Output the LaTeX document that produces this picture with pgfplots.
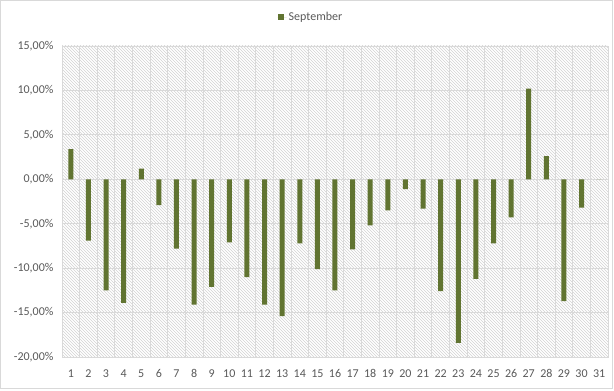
\documentclass[border=0pt]{standalone}
\usepackage{pgfplots}
\pgfplotsset{compat=1.18}
\usepackage{fontspec}
\setmainfont{Carlito}
\usetikzlibrary{patterns}
\definecolor{barc}{HTML}{617431}
\definecolor{txt}{HTML}{595959}
\definecolor{gridc}{HTML}{D9D9D9}
\begin{document}
\begin{tikzpicture}
\useasboundingbox (0,0) rectangle (614pt,391pt);
\draw[gridc, line width=0.8pt] (0.5pt,3pt) rectangle (612pt,390.5pt);
\begin{axis}[
  at={(62pt,34pt)}, anchor=south west,
  scale only axis, width=546pt, height=311pt,
  ybar, bar width=5pt,
  xmin=0.5, xmax=31.5, ymin=-20, ymax=15,
  xtick={1,...,31}, minor xtick={0.5,1.5,...,31.5},
  ytick={-20,-15,...,15},
  xminorgrids=true, ymajorgrids=true, xmajorgrids=false,
  grid style={gridc, line width=0.8pt},
  minor grid style={gridc, line width=0.8pt},
  major tick length=0pt, minor tick length=0pt,
  axis line style={gridc, line width=0.8pt},
  axis background/.style={pattern=north west lines, pattern color=gray!35},
  ticklabel style={font=\fontsize{12}{14}\selectfont, text=txt},
  /pgf/number format/assume math mode=true,
  yticklabel={\pgfmathprintnumber[fixed,fixed zerofill,precision=2,use comma]{\tick}\%},
  yticklabel style={xshift=-5pt},
  xticklabel style={yshift=-9pt},
  legend style={at={(0.456,1.093)}, anchor=center, draw=none, fill=none,
    font=\fontsize{12}{14}\selectfont, text=txt},
  legend image code/.code={\path (0pt,0pt) -- (9pt,0pt);\fill[barc] (0pt,-3pt) rectangle (6pt,3pt);},
]
\addplot[fill=barc, draw=none, bar shift=0pt] coordinates {
(1,3.4) (2,-6.9) (3,-12.5) (4,-13.9) (5,1.2) (6,-2.9) (7,-7.8) (8,-14.1)
(9,-12.1) (10,-7.1) (11,-11.0) (12,-14.1) (13,-15.4) (14,-7.2) (15,-10.1)
(16,-12.5) (17,-7.9) (18,-5.2) (19,-3.5) (20,-1.1) (21,-3.3) (22,-12.6)
(23,-18.4) (24,-11.2) (25,-7.2) (26,-4.3) (27,10.2) (28,2.6) (29,-13.7)
(30,-3.2) (31,0)
};
\legend{September}
\end{axis}
\end{tikzpicture}
\end{document}
